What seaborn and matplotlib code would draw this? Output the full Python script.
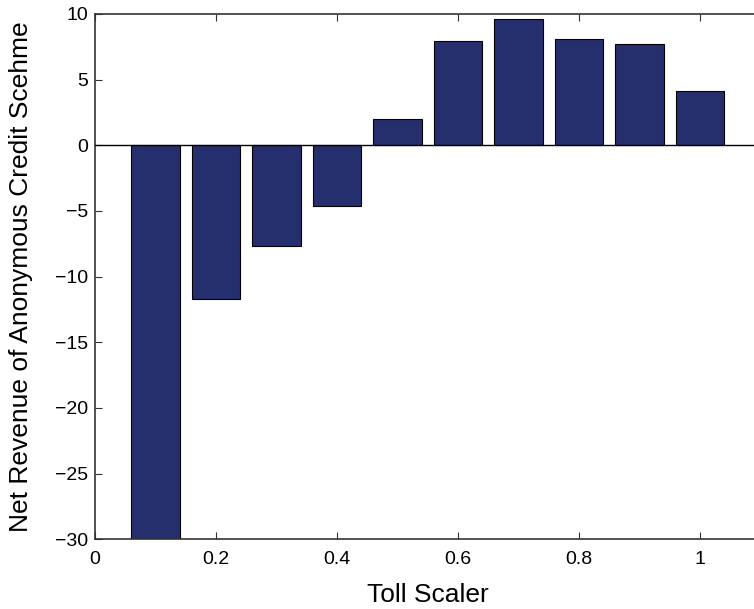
import pandas as pd
import matplotlib
matplotlib.use("Agg")
import matplotlib.pyplot as plt
import seaborn as sns

# Valeurs
toll_scaler = [0.1, 0.2, 0.3, 0.4, 0.5, 0.6, 0.7, 0.8, 0.9, 1.0]
net_revenue = [-30.0, -11.7, -7.65, -4.6, 2.03, 7.92, 9.6, 8.07, 7.69, 4.11]
x_ticks = [0, 0.2, 0.4, 0.6, 0.8, 1.0]
x_tick_labels = ["0", "0.2", "0.4", "0.6", "0.8", "1"]
y_ticks = [-30, -25, -20, -15, -10, -5, 0, 5, 10]
y_tick_labels = ["\u221230", "\u221225", "\u221220", "\u221215", "\u221210", "\u22125", "0", "5", "10"]

df = pd.DataFrame({"toll": toll_scaler, "revenue": net_revenue})

sns.set_style("white")
plt.rcParams['font.family'] = ['Liberation Sans', 'DejaVu Sans']

fig = plt.figure(figsize=(7.54, 6.09), dpi=100)
ax = fig.add_axes([95/754, 69.7/609, 665.5/754, 525.3/609])

sns.barplot(x="toll", y="revenue", data=df, native_scale=True, width=0.8,
            color="#262F6E", saturation=1, edgecolor="black", linewidth=0.8, ax=ax)
ax.axhline(0, color="black", lw=1.0, zorder=3)

ax.set_xlim(0, 1.1)
ax.set_ylim(-30, 10)
ax.set_xticks(x_ticks)
ax.set_xticklabels(x_tick_labels, fontsize=14)
ax.set_yticks(y_ticks)
ax.set_yticklabels(y_tick_labels, fontsize=14)
ax.tick_params(direction="in", length=5, width=0.8, top=True, right=True,
               bottom=True, left=True, colors="#333333", labelcolor="black")
ax.tick_params(axis="x", pad=8.5)
ax.tick_params(axis="y", pad=5)
for s in ax.spines.values():
    s.set_visible(True)
    s.set_color("#333333")
    s.set_linewidth(1.2)

ax.set_xlabel("Toll Scaler", fontsize=19, labelpad=11, color="black")
ax.set_ylabel("Net Revenue of Anonymous Credit Scehme", fontsize=19, labelpad=16, color="black")

fig.savefig("out.png", dpi=100)
